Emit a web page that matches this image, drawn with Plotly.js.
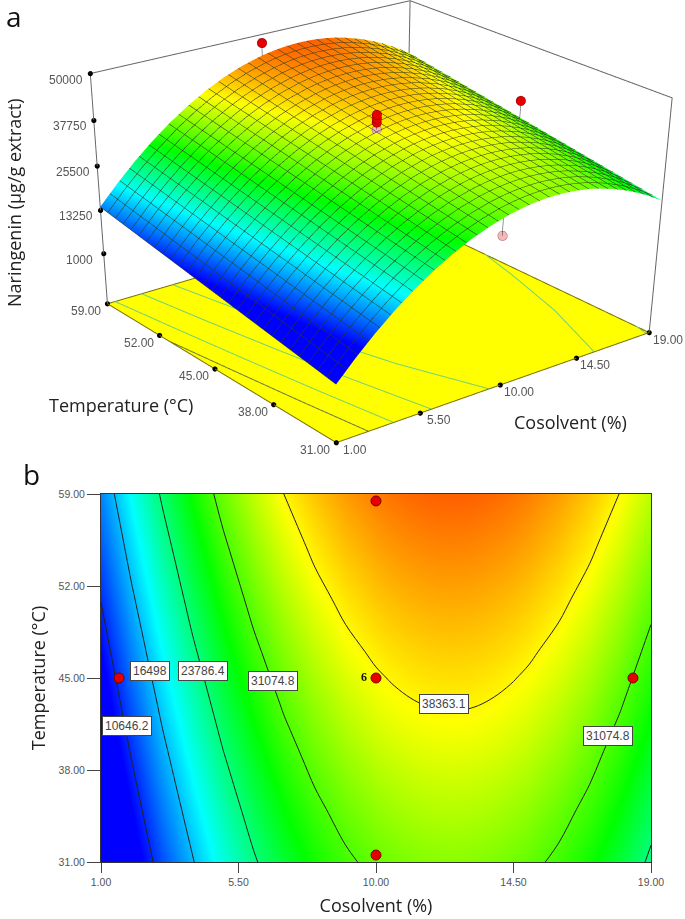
<!DOCTYPE html>
<html><head><meta charset="utf-8">
<script src="https://cdn.plot.ly/plotly-3.0.1.min.js"></script>
<style>html,body{margin:0;padding:0;background:#fff;overflow:hidden;width:685px;height:919px}</style>
</head><body><div id="chart" style="width:685px;height:1700px"></div>
<script>
const cosolvent=[1,2,3,4,5,6,7,8,9,10,10.5,11,11.5,12,12.5,13,13.5,14,14.5,15,16,17,18,19];
const temperature=[31,35,39,41,43,45,47,51,55,59];
const naringenin=[
[2070,7290,12040,16310,20100,23420,26260,28630,30510,31930,32460,32870,33160,33330,33380,33310,33130,32820,32400,31860,30410,28500,26100,23230],
[3810,9030,13770,18040,21840,25150,28000,30360,32250,33660,34190,34600,34890,35060,35120,35050,34860,34560,34140,33590,32150,30230,27840,24970],
[5540,10760,15510,19780,23570,26890,29730,32100,33990,35400,35930,36340,36630,36800,36850,36790,36600,36300,35870,35330,33890,31970,29570,26700],
[6410,11630,16380,20650,24440,27760,30600,32970,34850,36270,36800,37210,37500,37670,37720,37650,37470,37160,36740,36200,34750,32840,30440,27570],
[7280,12500,17240,21510,25310,28630,31470,33830,35720,37140,37670,38070,38360,38540,38590,38520,38340,38030,37610,37070,35620,33700,31310,28440],
[8150,13370,18110,22380,26180,29490,32340,34700,36590,38000,38530,38940,39230,39400,39460,39390,39200,38900,38480,37930,36490,34570,32180,29310],
[9010,14230,18980,23250,27040,30360,33200,35570,37460,38870,39400,39810,40100,40270,40320,40260,40070,39770,39340,38800,37360,35440,33050,30180],
[10750,15970,20720,24990,28780,32100,34940,37310,39190,40610,41140,41550,41840,42010,42060,41990,41810,41500,41080,40540,39090,37180,34780,31910],
[12490,17710,22450,26720,30520,33830,36680,39040,40930,42340,42870,43280,43570,43740,43800,43730,43540,43240,42820,42270,40830,38910,36520,33650],
[14220,19440,24190,28460,32250,35570,38410,40780,42670,44080,44610,45020,45310,45480,45530,45470,45280,44980,44550,44010,42570,40650,38250,35380]];
const cosolventTicks=[1,5.5,10,14.5,19];
const cosolventTickText=['1.00','5.50','10.00','14.50','19.00'];
const temperatureTicks=[31,38,45,52,59];
const temperatureTickText=['31.00','38.00','45.00','52.00','59.00'];
const responseTicks=[1000,13250,25500,37750,50000];
const responseTickText=['1000','13250','25500','37750','50000'];
const responseFloor=-13700, responseTop=50000;
const pointX=[10,10,10,10,18.41,10,1.59];
const pointT=[58.47,45,45,45,45,31.53,45];
const pointZ=[48500,40500,41500,42500,36100,26000,9000];
const pointSurface=[45000,38000,38000,38000,31080,32100,8000];
const lowPointX=[10,10],lowPointT=[45,31.53],lowPointZ=[38600,26000];
const designX=[1.59,10,10,10,18.41];
const designT=[45,58.47,45,31.53,45];
const contourLevels=[16498,23786.4,31074.8,38363.2];
const lowestLevel=10646.2;
const contourLabelText=['16498','23786.4','31074.8','38363.1','10646.2','31074.8'];
const contourLabelX=[2.6,4.34,6.63,12.24,1.85,17.58];
const contourLabelT=[45.53,45.53,44.77,43.02,41.35,40.59];
const floorLineX=[9.36,7.73,6.54,5.54,4.68,null,15.58,17.21,18.4,19,null,6.12,5.18,4.36,3.6,2.91,null,18.82,19,null,4.05,3.32,2.65,2.02,1.42];
const floorLineT=[31,38,45,52,59,null,31,38,45,49.2,null,31,38,45,52,59,null,31,32.3,null,31,38,45,52,59];
const darkLineX=[2.7,2.06,1.47,1];
const darkLineT=[31,38,45,50.76];

const H=1700;
const scale=[[0,'#0000ff'],[.1446,'#0000ff'],[.353,'#00ffff'],[.541,'#00ff00'],[.75,'#ffff00'],[1,'#ff0000']];
const cmin=2070,cmax=50000;
const xMin=cosolvent[0],xMax=cosolvent[cosolvent.length-1],tMin=temperature[0],tMax=temperature[temperature.length-1];
const tf={family:'Liberation Sans, Arial, sans-serif',size:10.5,color:'#555'};
const tickFont3d={family:'Liberation Sans, Arial, sans-serif',size:12,color:'#555'};
const titleFont={family:'Open Sans, sans-serif',size:18,color:'#222'};
const stems=(xs,ys,zs,zb)=>{const a=[],b=[],c=[];xs.forEach((v,i)=>{a.push(v,v,null);b.push(ys[i],ys[i],null);c.push(zs[i],zb[i],null)});return [a,b,c]};
const [sx,sy,sz]=stems(pointX,pointT,pointZ,pointSurface);
const flat=(a,v)=>a.map(q=>q===null?null:v);
const fl=responseFloor+50;
const traces=[
 {type:'contour',x:cosolvent,y:temperature,z:naringenin,colorscale:scale,zmin:cmin,zmax:cmax,showscale:false,hoverinfo:'skip',
  contours:{coloring:'heatmap',start:contourLevels[0],end:contourLevels[3],size:7288.4},line:{color:'#222',width:1,smoothing:1},zsmooth:'best'},
 {type:'contour',x:cosolvent,y:temperature,z:naringenin,showscale:false,hoverinfo:'skip',
  contours:{coloring:'none',start:lowestLevel,end:lowestLevel,size:1000},line:{color:'#222',width:1,smoothing:1}},
 {type:'scatter',mode:'markers',x:designX,y:designT,hoverinfo:'skip',marker:{color:'#e60000',size:10,line:{color:'#7a0000',width:1}}},
 {type:'surface',x:cosolvent,y:temperature,z:naringenin,colorscale:scale,cmin:cmin,cmax:cmax,showscale:false,hoverinfo:'skip',
  lighting:{ambient:1,diffuse:0,specular:0,roughness:1,fresnel:0},
  contours:{x:{show:true,start:xMin,end:xMax,size:.5625,color:'#2a3a1a',width:2,highlight:false},
            y:{show:true,start:tMin,end:tMax,size:1,color:'#2a3a1a',width:2,highlight:false},
            z:{show:false,highlight:false}}},
 {type:'scatter3d',mode:'lines',x:floorLineX,y:floorLineT,z:flat(floorLineX,fl),line:{color:'#72d07a',width:2},hoverinfo:'skip'},
 {type:'scatter3d',mode:'lines',x:darkLineX,y:darkLineT,z:flat(darkLineX,fl),line:{color:'#6b7b3a',width:2},hoverinfo:'skip'},
 {type:'scatter3d',mode:'lines',x:sx,y:sy,z:sz,line:{color:'#333',width:1},hoverinfo:'skip'},
 {type:'scatter3d',mode:'markers',x:pointX.slice(0,5),y:pointT.slice(0,5),z:pointZ.slice(0,5),marker:{size:5.5,color:'#e60000',line:{color:'#7a0000',width:1}},hoverinfo:'skip'},
 {type:'scatter3d',mode:'markers',x:lowPointX,y:lowPointT,z:lowPointZ,marker:{size:5.5,color:'#f4b8b8',line:{color:'#a06060',width:1}},hoverinfo:'skip'},
 {type:'scatter3d',mode:'lines',line:{color:'#666',width:2},hoverinfo:'skip',
  x:[xMin,xMin,xMax,xMax,xMax,null,xMax,xMax],
  y:[tMax,tMax,tMax,tMin,tMin,null,tMax,tMax],
  z:[fl,responseTop,responseTop,responseTop,fl,null,responseTop,fl]},
 {type:'scatter3d',mode:'lines',line:{color:'#7a7000',width:2},hoverinfo:'skip',
  x:[xMin,xMin,xMax,xMax,xMin],y:[tMax,tMin,tMin,tMax,tMax],z:[fl,fl,fl,fl,fl]},
 {type:'scatter3d',mode:'markers',marker:{size:3,color:'#000'},hoverinfo:'skip',
  x:[...cosolventTicks,...temperatureTicks.map(()=>xMin),...responseTicks.map(()=>xMin)],
  y:[...cosolventTicks.map(()=>tMin),...temperatureTicks,...responseTicks.map(()=>tMax)],
  z:[...cosolventTicks.map(()=>fl),...temperatureTicks.map(()=>fl),...responseTicks]}
];
const sceneAnn=[];
cosolventTicks.forEach((v,i)=>sceneAnn.push({x:v,y:tMin,z:responseFloor,text:cosolventTickText[i],showarrow:false,xshift:19,yshift:-7,font:tickFont3d}));
temperatureTicks.forEach((v,i)=>sceneAnn.push({x:xMin,y:v,z:responseFloor,text:temperatureTickText[i],showarrow:false,xshift:-21,yshift:-7,font:tickFont3d}));
responseTicks.forEach((v,i)=>sceneAnn.push({x:xMin,y:tMax,z:v,text:responseTickText[i],showarrow:false,xshift:-24,yshift:-6,font:tickFont3d}));
const hiddenAxis={showgrid:false,zeroline:false,showticklabels:false,ticks:'',showline:false,showspikes:false,showbackground:false,title:{text:''}};
const px=(p)=>p/685, py=(p)=>1-p/H;
const anchored={xref:'paper',yref:'paper',showarrow:false,xanchor:'center',yanchor:'middle'};
const ann=[
 {...anchored,x:px(14),y:py(16),text:'a',font:{family:'Open Sans, sans-serif',size:28,color:'#111'}},
 {...anchored,x:px(32),y:py(474),text:'b',font:{family:'Open Sans, sans-serif',size:28,color:'#111'}},
 {...anchored,x:px(14),y:py(203),text:'Naringenin (µg/g extract)',textangle:-90,font:titleFont},
 {...anchored,x:px(121),y:py(405),text:'Temperature (°C)',font:titleFont},
 {...anchored,x:px(570),y:py(422),text:'Cosolvent (%)',font:titleFont},
 {xref:'x',yref:'y',x:9.62,y:45.1,text:'<b>6</b>',showarrow:false,font:{family:'Liberation Serif, serif',size:12,color:'#111'}}
];
contourLabelText.forEach((t,i)=>ann.push({xref:'x',yref:'y',x:contourLabelX[i],y:contourLabelT[i],text:t,showarrow:false,bgcolor:'#fff',bordercolor:'#444',borderwidth:1,borderpad:2,font:{family:'Liberation Sans, Arial, sans-serif',size:12,color:'#444'}}));
const layout={width:685,height:H,margin:{l:0,r:0,t:0,b:0},paper_bgcolor:'#fff',plot_bgcolor:'#fff',showlegend:false,
 xaxis:{domain:[101/685,651/685],range:[xMin,xMax],tickvals:cosolventTicks,ticktext:cosolventTickText,ticks:'outside',ticklen:10,tickcolor:'#444',tickfont:tf,showline:true,mirror:true,linecolor:'#333',showgrid:false,zeroline:false,title:{text:'Cosolvent (%)',font:titleFont,standoff:12}},
 yaxis:{domain:[(H-862)/H,(H-494)/H],range:[tMin,tMax],tickvals:temperatureTicks,ticktext:temperatureTickText,ticks:'outside',ticklen:13,tickcolor:'#444',tickfont:tf,showline:true,mirror:true,linecolor:'#333',showgrid:false,zeroline:false,title:{text:'Temperature (°C)',font:titleFont,standoff:8}},
 scene:{domain:{x:[0,1],y:[0,1]},bgcolor:'rgba(0,0,0,0)',aspectmode:'manual',aspectratio:{x:1,y:.989,z:.59},
  camera:{eye:{x:-3.099,y:-3.9235,z:1.893},center:{x:-.666,y:-.736,z:-1.259},up:{x:0,y:0,z:1},projection:{type:'perspective'}},
  xaxis:{...hiddenAxis,range:[xMin-.02,xMax+.02]},yaxis:{...hiddenAxis,range:[tMin-.03,tMax+.03]},
  zaxis:{...hiddenAxis,range:[responseFloor,responseTop+100],showbackground:true,backgroundcolor:'#ffff00'},
  annotations:sceneAnn},
 annotations:ann};
Plotly.newPlot('chart',traces,layout,{displayModeBar:false});
</script></body></html>
